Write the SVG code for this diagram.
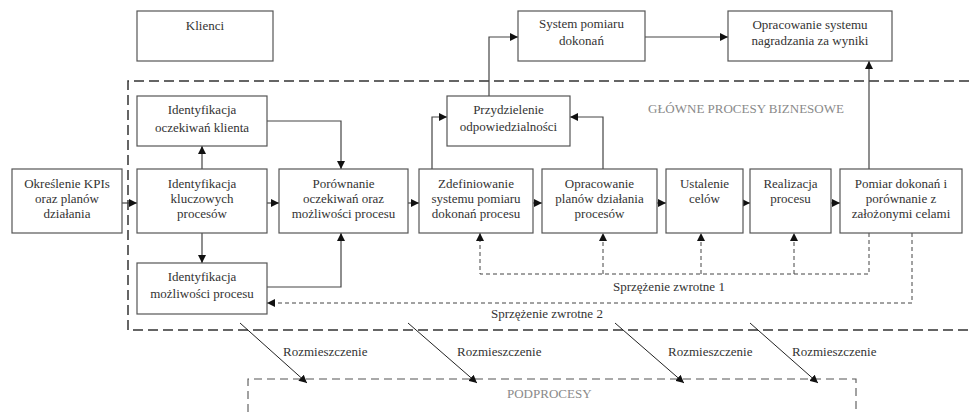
<svg xmlns="http://www.w3.org/2000/svg" width="969" height="412" viewBox="0 0 969 412">
<style>
.box{fill:#fff;stroke:#555;stroke-width:1.2}
.t{font-family:"Liberation Serif","Times New Roman",serif;font-size:13px;fill:#333;text-anchor:middle}
.ts{font-family:"Liberation Serif","Times New Roman",serif;font-size:13px;fill:#333}
.tg{font-family:"Liberation Serif","Times New Roman",serif;font-size:13px;fill:#8a8a8a}
.c{fill:none;stroke:#444;stroke-width:1.2}
.d{fill:none;stroke:#444;stroke-width:1;stroke-dasharray:4 3}
.frame{fill:none;stroke:#333;stroke-width:1.5;stroke-dasharray:10 5}
.frame2{fill:none;stroke:#555;stroke-width:1.1;stroke-dasharray:8 5}
.r{fill:none;stroke:#222;stroke-width:1}
</style>
<defs>
<marker id="a" markerUnits="userSpaceOnUse" markerWidth="8" markerHeight="8" refX="8" refY="4" orient="auto"><path d="M0,0 L8,4 L0,8 z" fill="#111"/></marker>
</defs>
<g id="frames">
<path class="frame" d="M969,81 H128 V330 H969"/>
<path class="frame2" d="M248,412 V379 H856 V412"/>
<text class="tg" x="648" y="113">GŁÓWNE PROCESY BIZNESOWE</text>
<text class="tg" x="507" y="398">PODPROCESY</text>
</g>
<g id="connectors">
<path class="c" d="M122,203 H137" marker-end="url(#a)"/>
<path class="c" d="M267,203 H279" marker-end="url(#a)"/>
<path class="c" d="M408,203 H419" marker-end="url(#a)"/>
<path class="c" d="M533,203 H542" marker-end="url(#a)"/>
<path class="c" d="M657,203 H666" marker-end="url(#a)"/>
<path class="c" d="M743,203 H750" marker-end="url(#a)"/>
<path class="c" d="M831,203 H840" marker-end="url(#a)"/>
<path class="c" d="M202,169 V146" marker-end="url(#a)"/>
<path class="c" d="M202,233 V263" marker-end="url(#a)"/>
<path class="c" d="M267,121 H341 V169" marker-end="url(#a)"/>
<path class="c" d="M267,287 H341 V233" marker-end="url(#a)"/>
<path class="c" d="M432,169 V117 H447" marker-end="url(#a)"/>
<path class="c" d="M603,169 V117 H570" marker-end="url(#a)"/>
<path class="c" d="M489,96 V37 H518" marker-end="url(#a)"/>
<path class="c" d="M645,37 H728" marker-end="url(#a)"/>
<path class="c" d="M869,169 V61" marker-end="url(#a)"/>
<path class="d" d="M869,233 V274 H480 V233" marker-end="url(#a)"/>
<path class="d" d="M603,274 V233" marker-end="url(#a)"/>
<path class="d" d="M701,274 V233" marker-end="url(#a)"/>
<path class="d" d="M794,274 V233" marker-end="url(#a)"/>
<path class="d" d="M912,233 V303 H267" marker-end="url(#a)"/>
<text class="ts" x="613" y="291">Sprzężenie zwrotne 1</text>
<text class="ts" x="491" y="318">Sprzężenie zwrotne 2</text>
<path class="r" d="M240,323 L307,383" marker-end="url(#a)"/>
<path class="r" d="M408,323 L477,383" marker-end="url(#a)"/>
<path class="r" d="M615,323 L684,383" marker-end="url(#a)"/>
<path class="r" d="M750,323 L818,383" marker-end="url(#a)"/>
<text class="ts" x="283" y="356">Rozmieszczenie</text>
<text class="ts" x="457" y="356">Rozmieszczenie</text>
<text class="ts" x="668" y="356">Rozmieszczenie</text>
<text class="ts" x="792" y="356">Rozmieszczenie</text>
</g>
<g id="klienci"><rect class="box" x="137" y="11" width="136" height="50"/><text class="t" x="205" y="30">Klienci</text></g>
<g id="oczekiwania"><rect class="box" x="137" y="96" width="130" height="50"/><text class="t" x="202" y="114">Identyfikacja</text><text class="t" x="202" y="132">oczekiwań klienta</text></g>
<g id="kpi"><rect class="box" x="12" y="169" width="110" height="64"/><text class="t" x="67" y="188">Określenie KPIs</text><text class="t" x="67" y="203">oraz planów</text><text class="t" x="67" y="218">działania</text></g>
<g id="kluczowe"><rect class="box" x="137" y="169" width="130" height="64"/><text class="t" x="202" y="188">Identyfikacja</text><text class="t" x="202" y="203">kluczowych</text><text class="t" x="202" y="218">procesów</text></g>
<g id="porownanie"><rect class="box" x="279" y="169" width="129" height="64"/><text class="t" x="343.5" y="188">Porównanie</text><text class="t" x="343.5" y="203">oczekiwań oraz</text><text class="t" x="343.5" y="218">możliwości procesu</text></g>
<g id="zdefiniowanie"><rect class="box" x="419" y="169" width="114" height="64"/><text class="t" x="476" y="188">Zdefiniowanie</text><text class="t" x="476" y="203">systemu pomiaru</text><text class="t" x="476" y="218">dokonań procesu</text></g>
<g id="plany"><rect class="box" x="542" y="169" width="115" height="64"/><text class="t" x="599.5" y="188">Opracowanie</text><text class="t" x="599.5" y="203">planów działania</text><text class="t" x="599.5" y="218">procesów</text></g>
<g id="cele"><rect class="box" x="666" y="169" width="77" height="64"/><text class="t" x="704.5" y="188">Ustalenie</text><text class="t" x="704.5" y="203">celów</text></g>
<g id="realizacja"><rect class="box" x="750" y="169" width="81" height="64"/><text class="t" x="790.5" y="188">Realizacja</text><text class="t" x="790.5" y="203">procesu</text></g>
<g id="pomiar"><rect class="box" x="840" y="169" width="122" height="64"/><text class="t" x="901" y="188">Pomiar dokonań i</text><text class="t" x="901" y="203">porównanie z</text><text class="t" x="901" y="218">założonymi celami</text></g>
<g id="mozliwosci"><rect class="box" x="137" y="263" width="130" height="51"/><text class="t" x="202" y="281">Identyfikacja</text><text class="t" x="202" y="298">możliwości procesu</text></g>
<g id="przydzielenie"><rect class="box" x="447" y="96" width="123" height="50"/><text class="t" x="508.5" y="114">Przydzielenie</text><text class="t" x="508.5" y="131">odpowiedzialności</text></g>
<g id="system"><rect class="box" x="518" y="11" width="127" height="50"/><text class="t" x="581.5" y="28">System pomiaru</text><text class="t" x="581.5" y="45">dokonań</text></g>
<g id="nagradzanie"><rect class="box" x="728" y="11" width="164" height="50"/><text class="t" x="810" y="29">Opracowanie systemu</text><text class="t" x="810" y="45">nagradzania za wyniki</text></g>
</svg>
